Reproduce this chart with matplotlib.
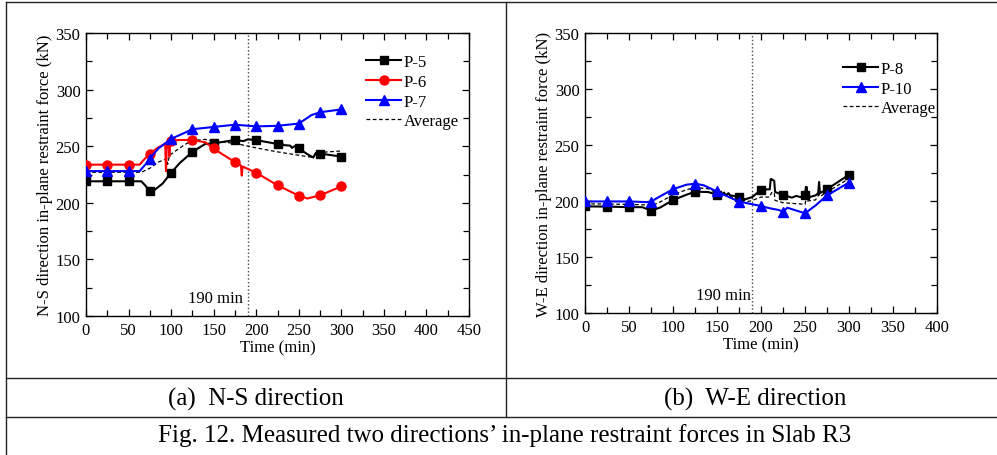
import numpy as np
import matplotlib
matplotlib.use('Agg')
import matplotlib.pyplot as plt

plt.rcParams['font.family'] = ['Liberation Serif', 'DejaVu Serif']

# ---- N-S direction data (time in min, force in kN) ----
t_p5 = [0, 25, 50, 65, 70, 75, 80, 90, 100, 110, 125, 140, 150, 175, 185, 190, 200, 210,
        225, 230, 232, 240, 242, 245, 250, 260, 267, 270, 275, 300]
p5 = [219, 219, 219, 219, 215, 210, 211, 217, 226.5, 235, 245, 252, 252.5, 255.5, 254.5, 256, 255.5, 254,
      252, 253, 251, 250.5, 248.5, 250, 248, 243, 240, 244, 243.5, 240.8]

t_p6 = [0, 25, 50, 63, 68, 75, 85, 93, 94, 95, 97, 98, 99, 100, 110, 125, 140, 150, 160, 175,
        182, 183, 184, 190, 200, 225, 250, 260, 275, 300]
p6 = [233.7, 233.7, 233.7, 233.7, 238, 243.5, 249, 252, 228, 252, 253, 241, 253, 255, 255.5, 255.5, 253.5, 248, 243, 236,
      233, 224, 232, 230, 226.5, 215.5, 206.3, 203.8, 206.6, 214.5]

t_p7 = [0, 25, 50, 63, 70, 75, 85, 100, 115, 125, 150, 175, 200, 225, 250, 258, 265, 275, 300]
p7 = [228, 228, 228, 228, 234, 239, 248, 256.5, 261.5, 265, 267, 269, 267.5, 268, 270, 274, 277.5, 280, 282.5]

t_avg_ns = [0, 50, 65, 75, 85, 95, 96, 98, 100, 115, 125, 140, 150, 175, 200, 225, 250, 267, 270, 275, 300]
avg_ns = [227, 227, 227, 230.5, 236, 239, 234, 242, 243, 251, 255, 256, 254.5, 252.5, 248.5, 245, 242, 240, 244, 244.5, 245.8]

# ---- W-E direction data ----
t_p8 = [0, 25, 50, 65, 75, 85, 100, 115, 125, 140, 150, 155, 158, 160, 163, 165, 175, 182, 190, 200,
        210, 211, 212, 215, 216, 225, 235, 240, 245, 250, 251, 252, 253, 262, 265, 266, 267, 275, 300]
p8 = [195.2, 195, 194.5, 194.5, 191.5, 194, 200.8, 205.5, 208.3, 208, 205.5, 206, 207.5, 205, 207, 205, 204, 201.5, 203.5, 210,
      210.5, 219.5, 219.5, 218, 208, 205.5, 203, 204.5, 203.5, 205, 212.5, 212.5, 203, 205, 207, 217, 207, 210.5, 223.5]

t_p10 = [0, 25, 50, 70, 75, 85, 100, 115, 125, 135, 150, 165, 175, 200, 210, 220, 225, 230, 240, 250, 262, 275, 300]
p10 = [199.6, 199.6, 199.6, 199, 199.5, 204, 210.5, 214.5, 215.5, 214, 208.5, 203, 199.5, 195.5, 193.5, 192, 190.5, 194,
       191.5, 189, 196, 205, 216.5]

t_avg_we = [0, 50, 70, 75, 85, 100, 115, 125, 140, 150, 175, 185, 190, 200, 210, 212, 215, 216, 225, 250,
            251, 253, 262, 266, 267, 275, 300]
avg_we = [197.5, 197, 196.5, 195.5, 199, 205.5, 210, 212, 211, 207, 202, 199.5, 200.5, 203.5, 203.5, 207.5, 207.5, 200.5,
          198.5, 197, 201, 200, 201, 206, 204, 208, 220]

ns_xmax = 450
we_xmax = 400
fire_time = 190


def marks(t):
    # markers only every 25 min
    return [i for i, v in enumerate(t) if v % 25 == 0]


def styleAxis(ax, xmax):
    ax.set_xlim(0, xmax)
    ax.set_ylim(100, 350)
    ax.set_xticks(np.arange(0, xmax + 1, 50))
    ax.set_yticks(np.arange(100, 351, 50))
    ax.set_xticks(np.arange(0, xmax + 1, 25), minor=True)
    ax.set_yticks(np.arange(100, 351, 25), minor=True)
    ax.tick_params(which='both', direction='in', top=True, right=True, labelsize=12, pad=4)
    ax.tick_params(which='major', length=5, width=0.9)
    ax.tick_params(which='minor', length=4, width=0.9)
    for s in ax.spines.values():
        s.set_linewidth(1.0)
    ax.set_xlabel('Time (min)', fontsize=12, labelpad=1)
    ax.axvline(fire_time, color='#444444', lw=1.0, ls=':', zorder=1)


fig = plt.figure(figsize=(9.97, 4.56), dpi=100)

# table frame and captions
bg = fig.add_axes([0, 0, 1, 1], zorder=-1)
bg.set_xlim(0, 997)
bg.set_ylim(456, 0)
bg.axis('off')
lc = '#222222'
bg.plot([6, 997], [3, 3], color=lc, lw=1.0)
bg.plot([6, 6], [3, 456], color=lc, lw=1.0)
bg.plot([505.5, 505.5], [3, 418], color=lc, lw=1.0)
bg.plot([6, 997], [379, 379], color=lc, lw=1.0)
bg.plot([6, 997], [418, 418], color=lc, lw=1.0)
bg.text(255.5, 399, '(a)  N-S direction', fontsize=18, ha='center', va='center')
bg.text(755, 399, '(b)  W-E direction', fontsize=18, ha='center', va='center')
bg.text(505, 436, 'Fig. 12. Measured two directions\u2019 in-plane restraint forces in Slab R3',
        fontsize=18, ha='center', va='center')

# (a) N-S direction
ax1 = fig.add_axes([86 / 997, 1 - 317 / 456, 383 / 997, 283 / 456])
styleAxis(ax1, ns_xmax)
ax1.plot(t_p5, p5, color='black', lw=1.5, marker='s', ms=6, markevery=marks(t_p5), label='P-5', zorder=3)
ax1.plot(t_p6, p6, color='red', lw=1.5, marker='o', ms=6.5, markevery=marks(t_p6), label='P-6', zorder=3)
ax1.plot(t_p7, p7, color='blue', lw=1.5, marker='^', ms=6.5, markevery=marks(t_p7), label='P-7', zorder=3)
ax1.plot(t_avg_ns, avg_ns, color='black', lw=0.9, ls='--', dashes=(3, 2), label='Average', zorder=2)
ax1.set_ylabel('N-S direction in-plane restraint force (kN)', fontsize=12, labelpad=2)
ax1.text(184, 115.5, '190 min', fontsize=12, ha='right', va='center')
ax1.legend(loc='upper left', bbox_to_anchor=(0.732, 0.925), frameon=False, fontsize=12,
           handlelength=2.1, handletextpad=0.15, labelspacing=0.22, borderpad=0, borderaxespad=0)

# (b) W-E direction
ax2 = fig.add_axes([585 / 997, 1 - 314 / 456, 352 / 997, 280 / 456])
styleAxis(ax2, we_xmax)
ax2.plot(t_p8, p8, color='black', lw=1.5, marker='s', ms=6, markevery=marks(t_p8), label='P-8', zorder=3)
ax2.plot(t_p10, p10, color='blue', lw=1.5, marker='^', ms=6.5, markevery=marks(t_p10), label='P-10', zorder=3)
ax2.plot(t_avg_we, avg_we, color='black', lw=0.9, ls='--', dashes=(3, 2), label='Average', zorder=2)
ax2.set_ylabel('W-E direction in-plane restraint force (kN)', fontsize=12, labelpad=2)
ax2.text(188, 116.5, '190 min', fontsize=12, ha='right', va='center')
ax2.legend(loc='upper left', bbox_to_anchor=(0.733, 0.9), frameon=False, fontsize=12,
           handlelength=2.1, handletextpad=0.15, labelspacing=0.22, borderpad=0, borderaxespad=0)

fig.savefig('out.png', dpi=100)
